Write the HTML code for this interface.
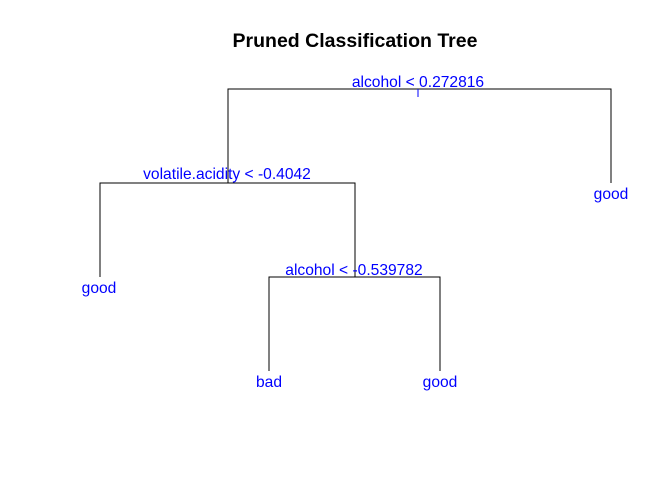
<!DOCTYPE html>
<html><head><style>body{margin:0;background:#fff}svg{display:block}</style></head>
<body>
<svg width="672" height="480" xmlns="http://www.w3.org/2000/svg" font-family="Liberation Sans, sans-serif">
<rect width="672" height="480" fill="#fff"/>
<text x="355" y="47" text-anchor="middle" font-size="19.5" font-weight="bold" fill="#000">Pruned Classification Tree</text>
<g stroke="#000" stroke-width="1" fill="none">
<polyline points="228,183 228,89 611,89 611,183"/>
<polyline points="100,277 100,183 355,183 355,277"/>
<polyline points="269,371 269,277 440,277 440,371"/>
</g>
<line x1="418" y1="89" x2="418" y2="97" stroke="#0000ff"/>
<g fill="#0000ff" font-size="15.6" text-anchor="middle">
<text x="418" y="87">alcohol &lt; 0.272816</text>
<text x="227" y="179">volatile.acidity &lt; -0.4042</text>
<text x="354" y="275">alcohol &lt; -0.539782</text>
<text x="611" y="199">good</text>
<text x="99" y="293">good</text>
<text x="269" y="387">bad</text>
<text x="440" y="387">good</text>
</g>
</svg>
</body></html>
